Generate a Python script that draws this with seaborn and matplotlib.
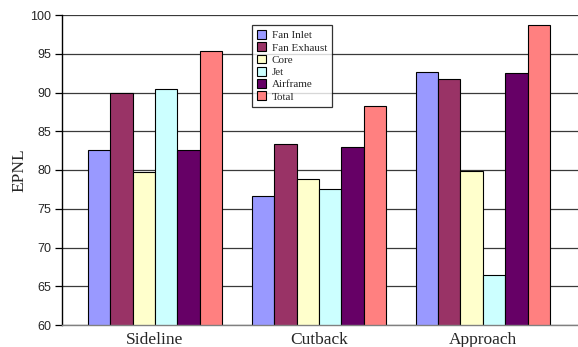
import matplotlib
matplotlib.use("Agg")
import matplotlib.pyplot as plt
import seaborn as sns
import pandas as pd

# Flight conditions and noise components
conditions = ["Sideline", "Cutback", "Approach"]
components = ["Fan Inlet", "Fan Exhaust", "Core", "Jet", "Airframe", "Total"]

fan_inlet = [82.6, 76.6, 92.6]
fan_exhaust = [89.9, 83.4, 91.7]
core = [79.8, 78.8, 79.9]
jet = [90.5, 77.6, 66.4]
airframe = [82.6, 83.0, 92.5]
total = [95.4, 88.3, 98.7]

palette = ["#9999FF", "#993366", "#FFFFCC", "#CCFFFF", "#660066", "#FF8080"]

series = [fan_inlet, fan_exhaust, core, jet, airframe, total]
rows = []
for comp, vals in zip(components, series):
    for cond, v in zip(conditions, vals):
        rows.append({"Condition": cond, "Component": comp, "EPNL": v})
df = pd.DataFrame(rows)

sns.set_theme(style="white")
fig = plt.figure(figsize=(5.78, 3.47), dpi=100)
ax = fig.add_axes([62 / 578, 22 / 347, 516 / 578, 310 / 347])

sns.barplot(data=df, x="Condition", y="EPNL", hue="Component",
            order=conditions, hue_order=components, palette=palette,
            width=0.82, edgecolor="black", linewidth=0.8, saturation=1,
            errorbar=None, ax=ax)

ax.set_ylim(60, 100)
ax.set_yticks(range(60, 101, 5))
ax.set_xlim(-0.567, 2.58)
ax.set_axisbelow(True)
ax.yaxis.grid(True, color="#3a3a3a", linewidth=0.9)
ax.xaxis.grid(False)

for s in ["top", "right"]:
    ax.spines[s].set_visible(False)
ax.spines["left"].set_color("black")
ax.spines["left"].set_linewidth(1.0)
ax.spines["bottom"].set_color("#808080")
ax.spines["bottom"].set_linewidth(1.0)

ax.tick_params(axis="y", direction="out", length=5, width=0.9, color="black",
               labelsize=9, pad=3, left=True)
ax.tick_params(axis="x", length=0, pad=5)
for lab in ax.get_yticklabels():
    lab.set_family("Liberation Sans")
for lab in ax.get_xticklabels():
    lab.set_family("Liberation Serif")
    lab.set_fontsize(12.5)

ax.set_xlabel("")
ax.set_ylabel("EPNL", family="Liberation Serif", fontsize=12.5, labelpad=2)

leg = ax.legend(loc="upper left", bbox_to_anchor=((252 - 62) / 516, (347 - 25 - 22) / 310),
                frameon=True, fancybox=False, edgecolor="black",
                prop={"family": "Liberation Serif", "size": 8},
                handlelength=0.85, handleheight=0.85, handletextpad=0.5,
                labelspacing=0.18, borderpad=0.45, borderaxespad=0)
leg.get_frame().set_linewidth(0.9)

fig.savefig("out.png", dpi=100)
